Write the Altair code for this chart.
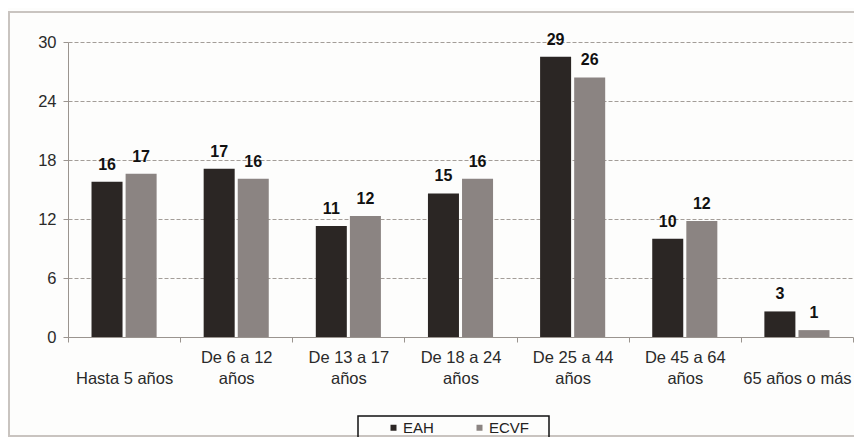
import altair as alt
import pandas as pd

categories = ["Hasta 5 años", "De 6 a 12 años", "De 13 a 17 años", "De 18 a 24 años",
              "De 25 a 44 años", "De 45 a 64 años", "65 años o más"]
line1 = ["", "De 6 a 12", "De 13 a 17", "De 18 a 24", "De 25 a 44", "De 45 a 64", ""]
line2 = ["Hasta 5 años", "años", "años", "años", "años", "años", "65 años o más"]
series = ["EAH", "ECVF"]
eah = [15.8, 17.1, 11.3, 14.6, 28.5, 10.0, 2.6]
ecvf = [16.6, 16.1, 12.3, 16.1, 26.4, 11.8, 0.7]
eah_labels = ["16", "17", "11", "15", "29", "10", "3"]
ecvf_labels = ["17", "16", "12", "16", "26", "12", "1"]
y_ticks = [0, 6, 12, 18, 24, 30]
colors = ["#2b2624", "#8b8482"]

rows = []
for i, c in enumerate(categories):
    rows.append({"cat": c, "serie": "EAH", "valor": eah[i], "etiqueta": eah_labels[i]})
    rows.append({"cat": c, "serie": "ECVF", "valor": ecvf[i], "etiqueta": ecvf_labels[i]})
df = pd.DataFrame(rows)

expr = ""
for c, a, b in zip(categories, line1, line2):
    expr += f"datum.value == '{c}' ? ['{a}', '{b}'] : "
expr += "datum.value"

FONT = "Liberation Sans"

x_enc = alt.X("cat:N", sort=categories, title=None,
              scale=alt.Scale(paddingInner=0, paddingOuter=0),
              axis=alt.Axis(labelAngle=0, labelExpr=expr, labelFontSize=16.5,
                            labelLineHeight=21, labelColor="#2a2a2a", labelFont=FONT,
                            labelPadding=7, tickBand="extent", ticks=True, tickSize=5,
                            tickColor="#9a948f", domainColor="#9a948f", grid=False,
                            labelLimit=200))
xo_enc = alt.XOffset("serie:N", sort=series,
                     scale=alt.Scale(paddingInner=0.09, paddingOuter=0.69))
y_enc = alt.Y("valor:Q", title=None,
              scale=alt.Scale(domain=[0, 30], nice=False),
              axis=alt.Axis(values=y_ticks, labelFontSize=16.5, labelColor="#2a2a2a",
                            labelFont=FONT, labelPadding=7, tickSize=5,
                            tickColor="#9a948f", domainColor="#9a948f",
                            grid=True, gridColor="#a39d98", gridDash=[4, 2],
                            gridWidth=1))

bars = alt.Chart(df).mark_bar().encode(
    x=x_enc, xOffset=xo_enc, y=y_enc,
    color=alt.Color("serie:N", sort=series,
                    scale=alt.Scale(domain=series, range=colors),
                    legend=alt.Legend(title=None, orient="none", direction="horizontal",
                                      legendX=318, legendY=378, symbolType="square",
                                      symbolSize=36, labelFontSize=15, labelFont=FONT,
                                      labelColor="#222", columnPadding=38,
                                      symbolStrokeWidth=0, labelOffset=2)),
)

text = alt.Chart(df).mark_text(baseline="alphabetic", dy=-12, fontSize=16,
                               fontWeight="bold", font=FONT, color="#111").encode(
    x=alt.X("cat:N", sort=categories), xOffset=alt.XOffset("serie:N", sort=series),
    y="valor:Q", text="etiqueta:N")

legend_box = alt.Chart(pd.DataFrame({"k": [0]})).mark_rect(
    fill=None, stroke="#111", strokeWidth=1.5).encode(
    x=alt.value(290), x2=alt.value(481), y=alt.value(374), y2=alt.value(398))

frame = alt.Chart(pd.DataFrame({"k": [0]})).mark_rect(
    fill=None, stroke="#c9c4c0", strokeWidth=2).encode(
    x=alt.value(-59), x2=alt.value(900), y=alt.value(-30), y2=alt.value(394))

chart = alt.layer(frame, bars, text, legend_box).properties(
    width=785, height=295,
    autosize=alt.AutoSizeParams(type="none"),
    padding={"left": 60, "top": 34, "right": 1, "bottom": 100},
    background="#fdfdfc",
).configure_view(stroke=None)

chart.save("out.html", embed_options={"renderer": "svg", "actions": False})
